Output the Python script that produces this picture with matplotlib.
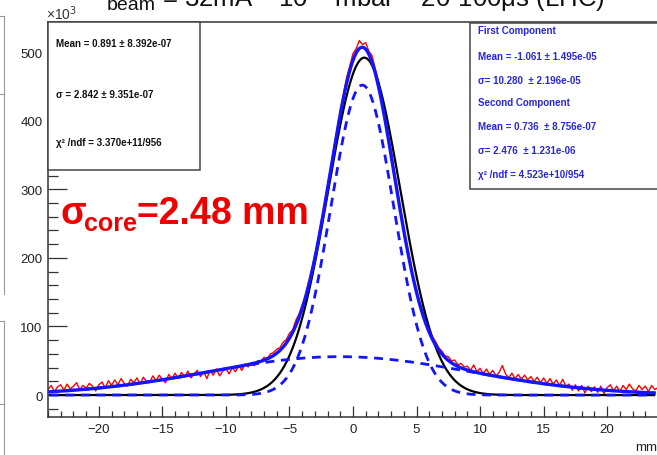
import numpy as np
import matplotlib
matplotlib.use('Agg')
import matplotlib.pyplot as plt
from matplotlib.patches import Rectangle
from matplotlib.lines import Line2D
from matplotlib.ticker import MultipleLocator

# Data (counts in units of 10^3) =============================================

# histogram bin centres go from -24 to 24 mm in 0.25 mm steps
bin_start, bin_stop, bin_step = -24.0, 24.0, 0.25
counts = [
    8, 14, 5, 12,   15, 7, 16, 9,   13, 18, 8, 14,   10, 17, 13, 6,
    15, 19, 10, 21,   14, 22, 15, 24,   17, 13, 23, 18,   25, 16, 26, 20,
    19, 28, 21, 29,   23, 18, 30, 24,   32, 24, 33, 26,   35, 25, 31, 36,
    27, 34, 24, 36,   29, 38, 28, 35,   39, 31, 40, 34,   43, 36, 45, 41,
    47, 43, 50, 49,   55, 53, 60, 62,   67, 69, 77, 81,   90, 95, 109, 118,
    131, 145, 164, 181,   204, 227, 253, 278,   306, 332, 361, 387,
    415, 439, 463, 480,   498, 505, 517, 511,   514, 501, 495, 476,
    458, 433, 411, 380,   357, 326, 299, 270,   244, 218, 197, 171,
    154, 135, 122, 105,   96, 85, 78, 69,   64, 57, 56, 50,   51, 44, 46, 41,
    42, 36, 44, 34,   39, 31, 38, 30,   36, 28, 33, 43,   31, 25, 32, 24,
    30, 23, 29, 22,   27, 20, 26, 18,   25, 17, 24, 16,   22, 14, 23, 13,
    16, 7, 15, 6,   14, 3, 13, 5,   12, 4, 13, 2,   11, 15, 6, 13,
    5, 14, 8, 16,   9, 6, 14, 8,   13, 5, 14, 8,   11,
]

# fit parameters (amplitudes)
single_fit = {'amp': 492, 'mean': 0.891, 'sigma': 2.842}
wide_comp = {'amp': 56, 'mean': -1.061, 'sigma': 10.280}
core_comp = {'amp': 452, 'mean': 0.736, 'sigma': 2.476}
fit_range = (-23.85, 23.7)

left_stats = ['Mean = 0.891 \u00b1 8.392e-07',
              '\u03c3 = 2.842 \u00b1 9.351e-07',
              '\u03c7\u00b2 /ndf = 3.370e+11/956']
right_stats = ['First Component',
               'Mean = -1.061 \u00b1 1.495e-05',
               '\u03c3= 10.280  \u00b1 2.196e-05',
               'Second Component',
               'Mean = 0.736  \u00b1 8.756e-07',
               '\u03c3= 2.476  \u00b1 1.231e-06',
               '\u03c7\u00b2 /ndf = 4.523e+10/954']


def gauss(x, p):
    return p['amp'] * np.exp(-(x - p['mean']) ** 2 / (2 * p['sigma'] ** 2))


# Figure ======================================================================

W, H = 657, 456
fig = plt.figure(figsize=(W / 100, H / 100), dpi=100)
fig.set_facecolor('white')


def fx(x):
    return x / W


def fy(y):
    return 1 - y / H


ax = fig.add_axes([fx(48), fy(418), (658 - 48) / W, (418 - 23) / H])

xb = np.arange(bin_start, bin_stop + bin_step / 2, bin_step)
ax.plot(xb, counts, color='#ff0000', lw=1.0, zorder=1)

xf = np.linspace(fit_range[0], fit_range[1], 800)
blue = '#1414ff'
ax.plot(xf, gauss(xf, single_fit), color='black', lw=1.6, zorder=2)
ax.plot(xf, gauss(xf, wide_comp) + gauss(xf, core_comp), color=blue, lw=2.4, zorder=3)
ax.plot(xf, gauss(xf, wide_comp), color=blue, lw=2.0, ls=(0, (3.2, 2.4)), zorder=4)
ax.plot(xf, gauss(xf, core_comp), color=blue, lw=2.0, ls=(0, (3.2, 2.4)), zorder=4)

ax.set_xlim(-24, 24)
ax.set_ylim(-32, 544)
ax.xaxis.set_major_locator(MultipleLocator(5))
ax.xaxis.set_minor_locator(MultipleLocator(1))
ax.yaxis.set_major_locator(MultipleLocator(100))
ax.yaxis.set_minor_locator(MultipleLocator(20))

axcol = '#333333'
ax.tick_params(axis='x', which='major', direction='in', length=8, width=0.9,
               color=axcol, labelsize=9.5, labelcolor='#222222', pad=4)
ax.tick_params(axis='x', which='minor', direction='in', length=4, width=0.9, color=axcol)
ax.tick_params(axis='y', which='major', direction='in', length=13.5, width=0.9,
               color=axcol, labelsize=9.5, labelcolor='#222222', pad=4)
ax.tick_params(axis='y', which='minor', direction='in', length=7, width=0.9, color=axcol)
for lab in ax.get_xticklabels() + ax.get_yticklabels():
    lab.set_family(['Liberation Sans', 'DejaVu Sans'])
for s in ['left', 'bottom', 'top']:
    ax.spines[s].set_color(axcol)
    ax.spines[s].set_linewidth(1.1)
ax.spines['right'].set_visible(False)

# Stat boxes ==================================================================

box_font = ['Liberation Sans Narrow', 'Liberation Sans', 'DejaVu Sans']
fig.patches.append(Rectangle((fx(48), fy(171)), (200 - 48) / W, (171 - 23) / H,
                             transform=fig.transFigure, fill=True, fc='white',
                             ec='#444444', lw=1.1, zorder=5))
fig.patches.append(Rectangle((fx(470), fy(190)), (720 - 470) / W, (190 - 24) / H,
                             transform=fig.transFigure, fill=True, fc='white',
                             ec='#444444', lw=1.1, zorder=5))

for txt, y in zip(left_stats, [44, 95, 143]):
    fig.text(fx(56), fy(y), txt, fontsize=7, fontweight='bold', family=box_font,
             color='#111111', va='center', ha='left', zorder=6)
for txt, y in zip(right_stats, [31, 57, 81, 103, 127, 151, 175]):
    fig.text(fx(478), fy(y), txt, fontsize=7, fontweight='bold', family=box_font,
             color='#2626e0', va='center', ha='left', zorder=6)

# Annotation ==================================================================

red_font = ['Liberation Sans', 'DejaVu Sans']
fig.text(fx(60), fy(224), '\u03c3', fontsize=27, fontweight='bold', color='#ee0000',
         family=red_font, va='baseline', ha='left')
fig.text(fx(84), fy(231), 'core', fontsize=18, fontweight='bold', color='#ee0000',
         family=red_font, va='baseline', ha='left')
fig.text(fx(137), fy(224), '=2.48 mm', fontsize=27, fontweight='bold', color='#ee0000',
         family=red_font, va='baseline', ha='left')

# Axis decorations and cut-off title ===========================================

fig.text(fx(46), fy(20), '\u00d710$^3$', fontsize=10, color='#333333',
         family=red_font, va='baseline', ha='left')
fig.text(fx(657), fy(451), 'mm', fontsize=9.5, color='#222222',
         family=red_font, va='baseline', ha='right')
fig.text(fx(86), fy(-6), '\u03c3', fontsize=22, color='#111111',
         family=red_font, va='baseline', ha='left')
fig.text(fx(107), fy(10), 'beam', fontsize=14, color='#111111',
         family=red_font, va='baseline', ha='left')
fig.text(fx(162), fy(7), '= 32mA \u2013 10$^{-4}$mbar \u2013 20-100\u03bcs (LHC)',
         fontsize=18.5, color='#111111', family=red_font, va='baseline', ha='left')

# neighbouring panel edge on the left
grey = '#999999'
for xs, ys in [([4, 4], [17, 295]), ([0, 4], [17, 17]), ([0, 4], [95, 95]),
               ([4, 4], [322, 456]), ([0, 4], [322, 322]), ([0, 4], [405, 405])]:
    fig.add_artist(Line2D([fx(v) for v in xs], [fy(v) for v in ys],
                          transform=fig.transFigure, color=grey, lw=0.8))

plt.savefig('out.png', dpi=100)
